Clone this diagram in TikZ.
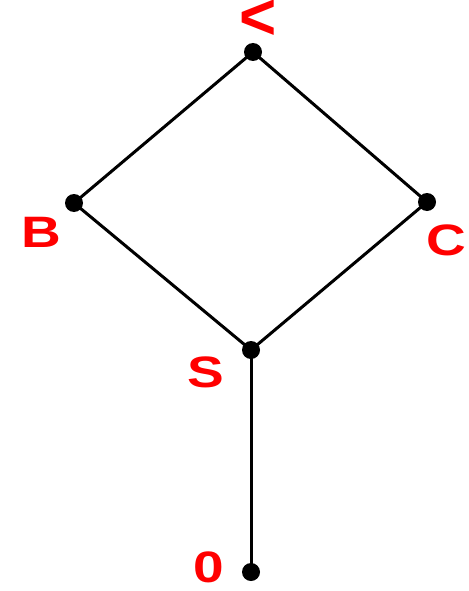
\documentclass[tikz,border=0pt]{standalone}
\usepackage{fontspec}
\setmainfont{Liberation Sans}
\begin{document}
\begin{tikzpicture}[x=1pt,y=-1pt,
  dot/.style={circle,fill=black,inner sep=0pt,minimum size=18pt},
  lbl/.style={text=red,font=\fontsize{44}{44}\selectfont\bfseries,inner sep=0pt,xscale=1.25},
  edge/.style={line width=3pt}]
\useasboundingbox (0,0) rectangle (468,591);
\node[dot] (t) at (253,52) {};
\node[dot] (b) at (74,203) {};
\node[dot] (c) at (427,202) {};
\node[dot] (s) at (251,350) {};
\node[dot] (z) at (251,572) {};
\draw[edge] (t.center) -- (b.center) -- (s.center) -- (c.center) -- (t.center);
\draw[edge] (s.center) -- (z.center);
\node[text=red,font=\fontsize{44}{44}\selectfont\bfseries,inner sep=0pt,xscale=1.45,yscale=1.5] (lt) at (258,20) {<};
\node[lbl] (lb) at (41,232) {B};
\node[lbl] (lc) at (446,240) {C};
\node[lbl] (ls) at (206,372) {S};
\node[lbl] (lz) at (209,567) {0};
\end{tikzpicture}
\end{document}
